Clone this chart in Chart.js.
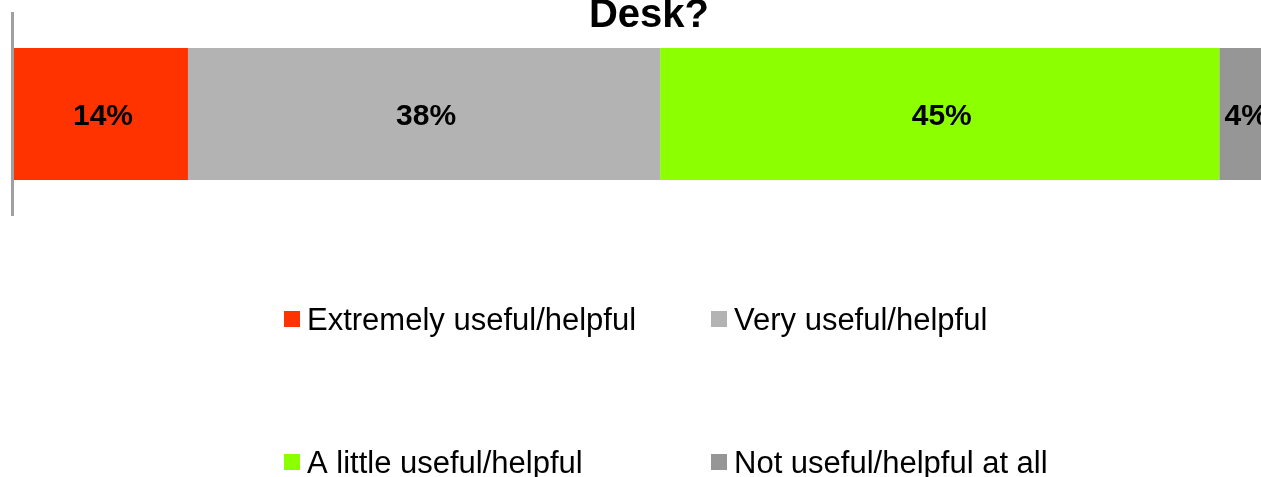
<!DOCTYPE html>
<html>
<head>
<meta charset="utf-8">
<script src="https://cdn.jsdelivr.net/npm/chart.js@4"></script>
<style>
  html, body { margin: 0; padding: 0; background: #fff; overflow: hidden; }
  #wrap { position: relative; width: 1298px; height: 477px; }
</style>
</head>
<body>
<div id="wrap"><canvas id="chart"></canvas></div>
<script>
// survey answers, one stacked bar
const categories = [''];
const seriesNames = ['Extremely useful/helpful', 'Very useful/helpful', 'A little useful/helpful', 'Not useful/helpful at all'];
const seriesValues = [14, 38, 45, 4];
const seriesColors = ['#FF3300', '#B3B3B3', '#8CFF00', '#969696'];
const titleText = 'Desk?';

const FONT = "'Liberation Sans', Arial, Helvetica, sans-serif";

// title line sits over the plot, outside the layout flow
const titlePlugin = {
  id: 'topTitle',
  afterDraw(chart) {
    const ctx = chart.ctx;
    ctx.save();
    ctx.font = 'bold 40px ' + FONT;
    ctx.fillStyle = '#000';
    ctx.textAlign = 'center';
    ctx.textBaseline = 'alphabetic';
    ctx.fillText(titleText, chart.width / 2, 27);
    ctx.restore();
  }
};

// gray axis line on the left of the plot
const axisLinePlugin = {
  id: 'axisLine',
  beforeDatasetsDraw(chart) {
    const { ctx, chartArea, scales } = chart;
    ctx.save();
    ctx.strokeStyle = '#A0A0A0';
    ctx.lineWidth = 3;
    ctx.beginPath();
    ctx.moveTo(chartArea.left - 1.5, scales.y.top);
    ctx.lineTo(chartArea.left - 1.5, scales.y.bottom);
    ctx.stroke();
    ctx.restore();
  }
};

// percent labels in the middle of each segment
const valueLabelPlugin = {
  id: 'valueLabels',
  afterDatasetsDraw(chart) {
    const ctx = chart.ctx;
    ctx.save();
    ctx.font = 'bold 30px ' + FONT;
    ctx.fillStyle = '#000';
    ctx.textAlign = 'center';
    ctx.textBaseline = 'middle';
    chart.data.datasets.forEach((ds, i) => {
      chart.getDatasetMeta(i).data.forEach((bar, j) => {
        const cx = (bar.x + bar.base) / 2;
        ctx.fillText(ds.data[j] + '%', cx + 2, bar.y + 3);
      });
    });
    ctx.restore();
  }
};

// two-column legend below the bar
const gridLegendPlugin = {
  id: 'gridLegend',
  afterDraw(chart) {
    const ctx = chart.ctx;
    const cols = [284, 711];
    const rows = [319, 462];
    ctx.save();
    ctx.font = '31px ' + FONT;
    ctx.textAlign = 'left';
    ctx.textBaseline = 'middle';
    chart.data.datasets.forEach((ds, i) => {
      const x = cols[i % 2];
      const y = rows[Math.floor(i / 2)];
      ctx.fillStyle = ds.backgroundColor;
      ctx.fillRect(x, y - 8, 16, 16);
      ctx.fillStyle = '#000';
      ctx.fillText(ds.label, x + 23, y + 2);
    });
    ctx.restore();
  }
};

new Chart(document.getElementById('chart'), {
  type: 'bar',
  data: {
    labels: categories,
    datasets: seriesNames.map((name, i) => ({
      label: name,
      data: [seriesValues[i]],
      backgroundColor: seriesColors[i],
      borderWidth: 0,
      categoryPercentage: 1,
      barPercentage: 0.647,
    }))
  },
  options: {
    indexAxis: 'y',
    animation: false,
    responsive: true,
    maintainAspectRatio: false,
    layout: { padding: { left: 14, right: 29, top: 12, bottom: 261 } },
    scales: {
      x: { stacked: true, min: 0, max: 101, display: false },
      y: { stacked: true, display: false }
    },
    plugins: {
      legend: { display: false },
      title: { display: false },
      tooltip: { enabled: false }
    }
  },
  plugins: [axisLinePlugin, valueLabelPlugin, titlePlugin, gridLegendPlugin]
});
</script>
</body>
</html>
